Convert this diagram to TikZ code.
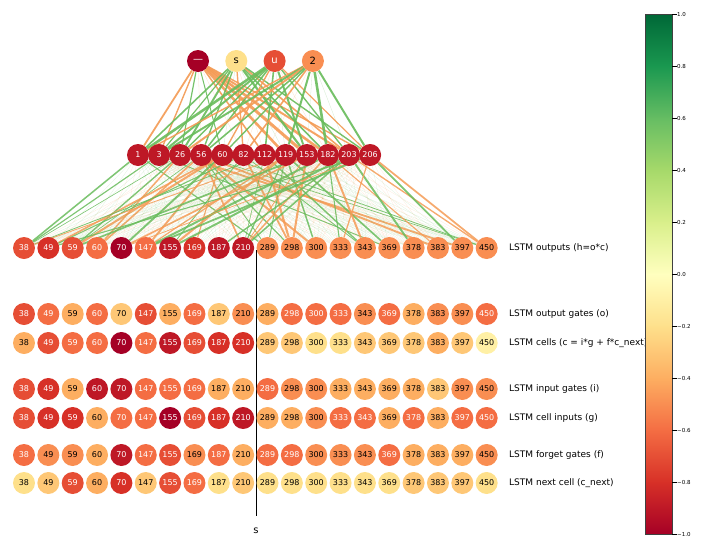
\documentclass[tikz,border=0pt]{standalone}
\usepackage{fontspec}
\setmainfont{DejaVu Sans}
\usetikzlibrary{backgrounds}

\definecolor{vA}{RGB}{165,0,38}
\definecolor{vB}{RGB}{190,24,38}
\definecolor{vC}{RGB}{215,48,39}
\definecolor{vD}{RGB}{230,78,53}
\definecolor{vE}{RGB}{244,109,67}
\definecolor{vF}{RGB}{249,142,82}
\definecolor{vG}{RGB}{253,174,97}
\definecolor{vH}{RGB}{254,199,118}
\definecolor{vI}{RGB}{254,224,139}
\definecolor{vJ}{RGB}{255,240,165}
\definecolor{cm0}{RGB}{165,0,38}
\definecolor{cm1}{RGB}{215,48,39}
\definecolor{cm2}{RGB}{244,109,67}
\definecolor{cm3}{RGB}{253,174,97}
\definecolor{cm4}{RGB}{254,224,139}
\definecolor{cm5}{RGB}{255,255,191}
\definecolor{cm6}{RGB}{217,239,139}
\definecolor{cm7}{RGB}{166,217,106}
\definecolor{cm8}{RGB}{102,189,99}
\definecolor{cm9}{RGB}{26,152,80}
\definecolor{cm10}{RGB}{0,104,55}
\definecolor{wpos}{RGB}{105,188,92}
\definecolor{wneg}{RGB}{245,155,85}

\begin{document}
\begin{tikzpicture}[
  x=1pt,y=-1pt,
  unit/.style={circle,inner sep=0pt,minimum size=22pt,font=\fontsize{8}{9}\selectfont},
  rowlabel/.style={anchor=west,inner sep=0pt,font=\fontsize{9}{10}\selectfont},
  weak/.style={line width=0.3pt,draw opacity=0.3},
  lvA/.style={fill=vA,text=white}, lvB/.style={fill=vB,text=white},
  lvC/.style={fill=vC,text=white}, lvD/.style={fill=vD,text=white},
  lvE/.style={fill=vE,text=white}, lvF/.style={fill=vF,text=black},
  lvG/.style={fill=vG,text=black}, lvH/.style={fill=vH,text=black},
  lvI/.style={fill=vI,text=black}, lvJ/.style={fill=vJ,text=black}
]
\useasboundingbox (0,0) rectangle (704,544);

% input characters
\foreach \lab/\lv [count=\t] in {—/A,s/I,u/D,2/F}
  \node[unit,lv\lv,font=\fontsize{10}{11}\selectfont] (t-\t) at ({198+38.3*(\t-1)},61) {\lab};

% selected hidden units
\foreach \lab [count=\j] in {1,3,26,56,60,82,112,119,153,182,203,206}
  \node[unit,lvB] (m-\j) at ({138+21.1*(\j-1)},155) {\lab};

% LSTM rows
\def\cellids{{38,49,59,60,70,147,155,169,187,210,289,298,300,333,343,369,378,383,397,450}}
\foreach \rw/\y/\cols in {
    h/248/{D,C,D,E,A,E,B,C,B,B,F,F,F,F,F,F,F,F,F,F},
    o/314/{D,E,G,E,H,D,G,E,H,F,G,E,E,E,F,E,G,F,F,E},
    c/343/{G,D,E,E,A,E,B,D,C,C,H,H,I,I,H,H,H,G,H,J},
    i/389/{D,C,G,B,B,E,E,E,G,G,E,F,F,G,G,G,G,H,F,F},
    g/418/{D,C,C,G,E,E,A,D,C,B,G,G,F,E,E,G,E,G,E,E},
    f/455/{E,F,F,G,B,E,D,F,E,G,E,E,F,F,F,E,G,G,G,F},
    n/483/{I,H,D,G,C,H,D,E,I,H,I,I,I,I,I,I,H,H,H,I}}
  \foreach \lv [count=\k] in \cols {
    \pgfmathtruncatemacro\lab{\cellids[\k-1]}
    \node[unit,lv\lv] (\rw-\k) at ({24+24.35*(\k-1)},\y) {\lab};
  }

\foreach \rw/\y/\txt in {
    h/248/{LSTM outputs (h=o*c)},
    o/314/{LSTM output gates (o)},
    c/343/{LSTM cells (c = i*g + f*c\_next)},
    i/389/{LSTM input gates (i)},
    g/418/{LSTM cell inputs (g)},
    f/455/{LSTM forget gates (f)},
    n/483/{LSTM next cell (c\_next)}}
  \node[rowlabel] (lab-\rw) at (509,\y) {\txt};

% split line
\coordinate (cut-top) at (256,250);
\coordinate (cut-bot) at (256,516);
\node[font=\fontsize{10}{12}\selectfont] (cut-lab) at (256,531) {s};

\begin{pgfonlayer}{background}
  \draw[line width=0.6pt] (cut-top) -- (cut-bot);
  \pgfmathsetseed{11}
  \foreach \t in {1,...,4}
    \foreach \j in {1,...,12} {
      \pgfmathsetmacro\w{rand}
      \ifdim\w pt>0pt \def\col{wpos}\else\def\col{wneg}\fi
      \draw[weak,draw=\col] (t-\t) -- (m-\j);
    }
  \foreach \t/\j/\col/\lw in {
      1/1/wneg/1.8, 1/2/wneg/1.4, 1/3/wpos/1.2, 1/5/wpos/1.0, 1/8/wneg/2.6,
      1/9/wneg/3.0, 1/10/wneg/2.6, 1/11/wneg/2.0, 1/12/wneg/1.4, 1/7/wneg/1.6,
      2/1/wpos/1.6, 2/3/wpos/2.0, 2/4/wpos/1.4, 2/6/wneg/1.4, 2/9/wpos/2.2,
      2/10/wpos/1.6, 2/11/wneg/1.6, 2/12/wpos/1.4, 2/2/wpos/1.2,
      3/1/wpos/2.6, 3/2/wpos/2.0, 3/3/wpos/1.4, 3/5/wneg/1.4, 3/7/wpos/1.6,
      3/9/wpos/2.0, 3/11/wpos/1.4, 3/12/wneg/1.2, 3/4/wpos/1.6,
      4/1/wneg/1.4, 4/2/wpos/2.0, 4/3/wneg/2.0, 4/4/wpos/1.6, 4/6/wneg/1.6,
      4/8/wpos/2.0, 4/10/wpos/2.6, 4/12/wpos/2.0, 4/5/wpos/1.4}
    \draw[line width=\lw pt,draw=\col,draw opacity=0.9] (t-\t) -- (m-\j);
  \foreach \j in {1,...,12}
    \foreach \k in {1,...,20} {
      \pgfmathsetmacro\w{rand}
      \pgfmathsetmacro\lw{abs(\w)>0.78 ? 0.6+7*(abs(\w)-0.78) : 0.25}
      \pgfmathsetmacro\op{abs(\w)>0.78 ? 0.85 : 0.22}
      \ifdim\w pt>0pt \def\col{wpos}\else\def\col{wneg}\fi
      \draw[line width=\lw pt,draw=\col,draw opacity=\op] (m-\j) -- (h-\k);
    }
\end{pgfonlayer}

% colour bar
\foreach \n in {0,...,9} {
  \pgfmathtruncatemacro\hi{10-\n}
  \pgfmathtruncatemacro\lo{9-\n}
  \shade[top color=cm\hi,bottom color=cm\lo] (645,{14+52*\n}) rectangle (672,{14+52*(\n+1)+0.6});
}
\draw[line width=0.4pt,black!75] (645,14) rectangle (672,534);
\foreach \v [count=\n from 0] in {1.0,0.8,0.6,0.4,0.2,0.0,−0.2,−0.4,−0.6,−0.8,−1.0} {
  \coordinate (tick-\n) at (672,{14+52*\n});
  \node[anchor=west,inner sep=0pt,font=\fontsize{5.5}{6}\selectfont] (tl-\n) at (677,{14+52*\n}) {\v};
  \draw[line width=0.4pt] (tick-\n) -- (tl-\n.west);
}
\end{tikzpicture}
\end{document}
